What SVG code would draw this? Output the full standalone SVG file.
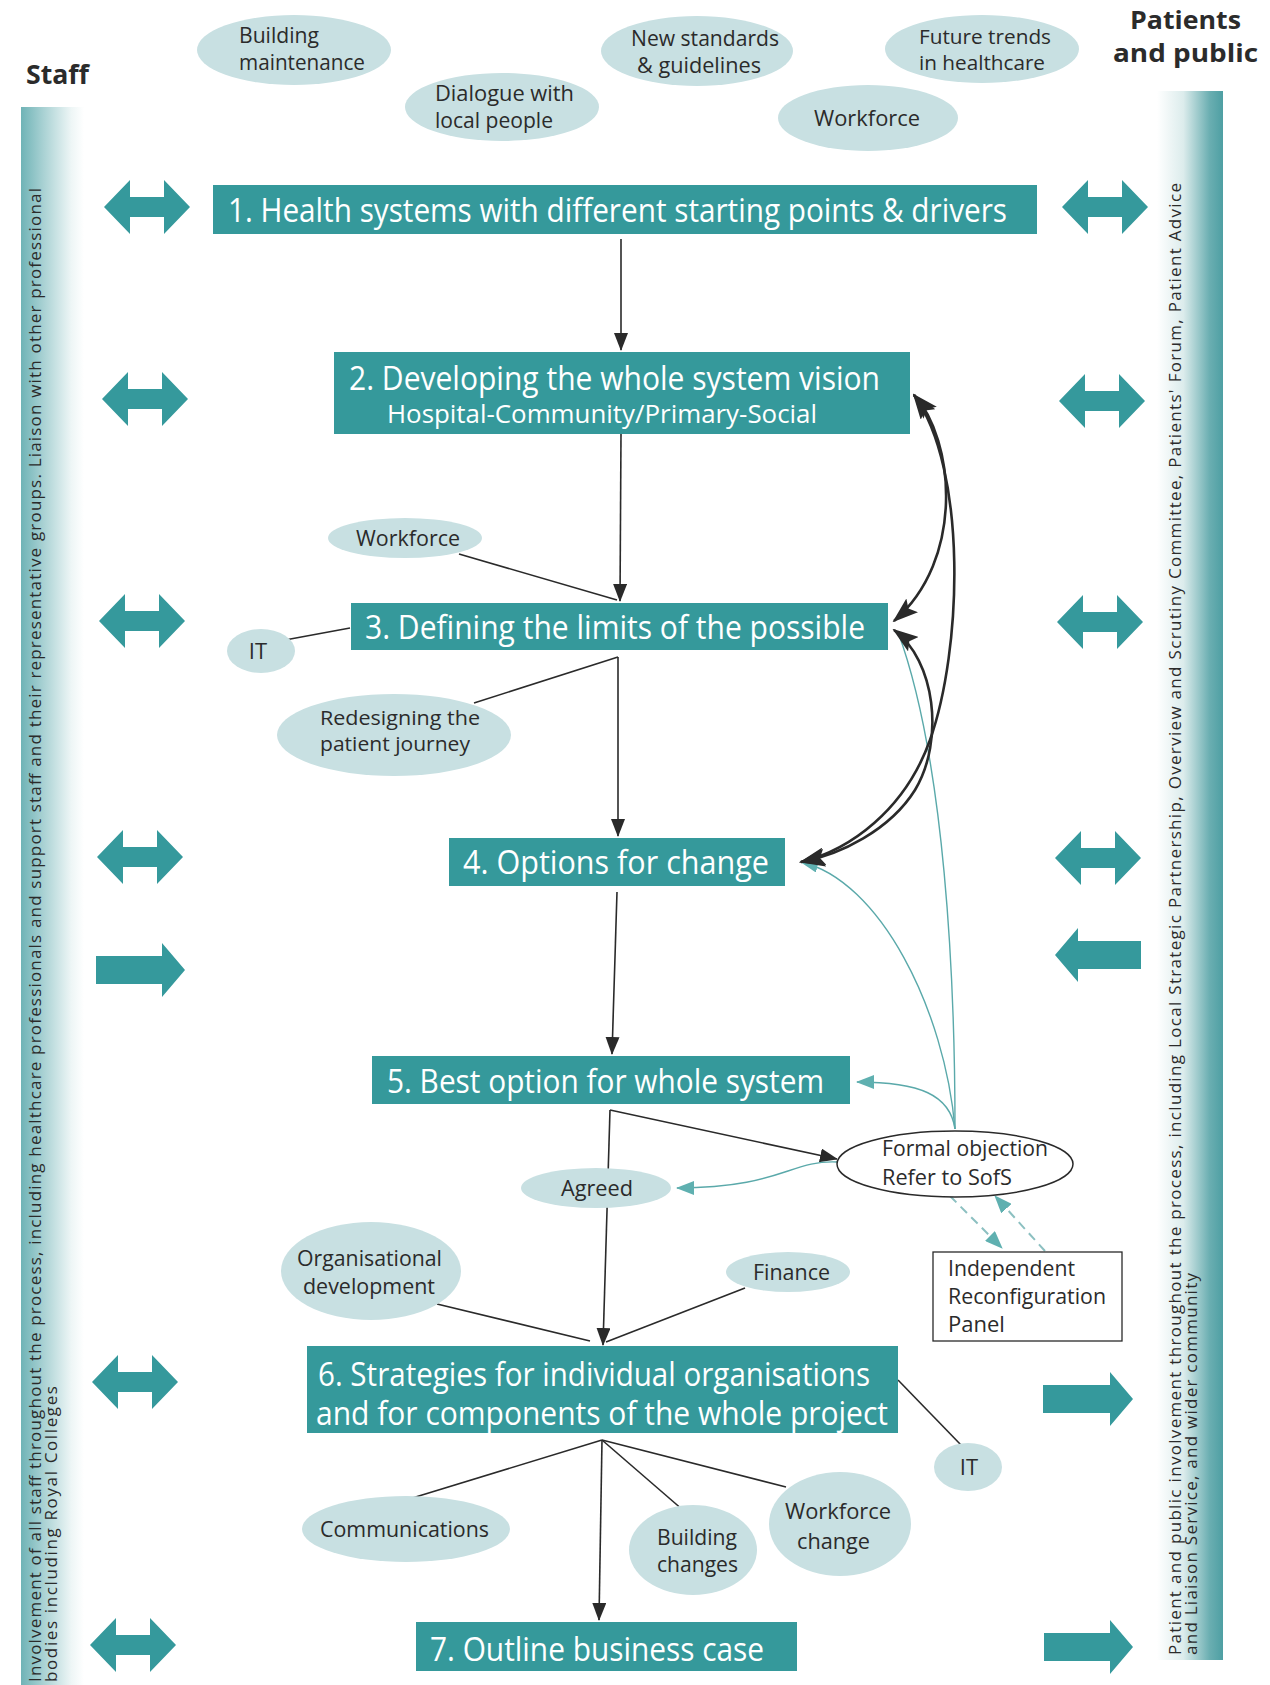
<svg xmlns="http://www.w3.org/2000/svg" width="1270" height="1685" viewBox="0 0 1270 1685">
<defs>
<style>
.box{fill:#35999b}
.bt{font-family:"Open Sans","Noto Sans",sans-serif;font-size:32px;fill:#ffffff}
.bt2{font-family:"Open Sans","Noto Sans",sans-serif;font-size:25px;fill:#ffffff}
.el{fill:#c8e0e2}
.et{font-family:"Open Sans","Noto Sans",sans-serif;font-size:22px;fill:#2b2b2b}
.et2{font-family:"Open Sans","Noto Sans",sans-serif;font-size:20.5px;fill:#2b2b2b}
.bar{font-family:"Open Sans","Noto Sans",sans-serif;font-size:17px;fill:#2b2b2b}
.hd{font-family:"Open Sans","Noto Sans",sans-serif;font-size:27px;font-weight:bold;fill:#2b2b2b}
.hd2{font-family:"Open Sans","Noto Sans",sans-serif;font-size:25px;font-weight:bold;fill:#2b2b2b}
.blk{fill:#35999c}
.ln{stroke:#2a2a2a;stroke-width:1.6;fill:none}
.cv{stroke:#2a2a2a;stroke-width:2.6;fill:none}
.tl{stroke:#5aa9aa;stroke-width:1.4;fill:none}
.ds{stroke:#8cc0c1;stroke-width:2;stroke-dasharray:9 6;fill:none}
</style>
<linearGradient id="gl" x1="0" y1="0" x2="1" y2="0">
<stop offset="0" stop-color="#6fb3b6"/>
<stop offset="0.35" stop-color="#a8d1d3"/>
<stop offset="0.8" stop-color="#eef6f6"/>
<stop offset="1" stop-color="#ffffff"/>
</linearGradient>
<linearGradient id="gr" x1="0" y1="0" x2="1" y2="0">
<stop offset="0" stop-color="#ffffff"/>
<stop offset="0.4" stop-color="#dcecec"/>
<stop offset="0.8" stop-color="#6aaeb1"/>
<stop offset="1" stop-color="#4e9fa3"/>
</linearGradient>
<marker id="ah" markerUnits="userSpaceOnUse" markerWidth="18" markerHeight="14" refX="17" refY="7" orient="auto">
<path d="M0,0 L18,7 L0,14 z" fill="#2a2a2a"/>
</marker>
<marker id="ahc" markerUnits="userSpaceOnUse" markerWidth="26" markerHeight="18" refX="24" refY="9" orient="auto-start-reverse">
<path d="M0,0 L26,9 L0,18 L5,9 z" fill="#2a2a2a"/>
</marker>
<marker id="aht" markerUnits="userSpaceOnUse" markerWidth="18" markerHeight="14" refX="17" refY="7" orient="auto">
<path d="M0,0 L18,7 L0,14 z" fill="#5fb0b0"/>
</marker>
</defs>
<rect width="1270" height="1685" fill="#ffffff"/>

<g id="staff-bar">
<rect x="21" y="107" width="63" height="1578" fill="url(#gl)"/>
<text class="bar" transform="translate(41,1682) rotate(-90)" textLength="1494" lengthAdjust="spacing">Involvement of all staff throughout the process, including healthcare professionals and support staff and their representative groups.  Liaison with other professional</text>
<text class="bar" transform="translate(57,1682) rotate(-90)" textLength="296" lengthAdjust="spacing">bodies including Royal Colleges</text>
</g>
<g id="public-bar">
<rect x="1157" y="91" width="66" height="1569" fill="url(#gr)"/>
<text class="bar" transform="translate(1181,1655) rotate(-90)" textLength="1472" lengthAdjust="spacing">Patient and public involvement throughout the process, including Local Strategic Partnership, Overview and Scrutiny Committee, Patients' Forum, Patient Advice</text>
<text class="bar" transform="translate(1197,1655) rotate(-90)" textLength="382" lengthAdjust="spacing">and Liaison Service, and wider community</text>
</g>

<g id="headings">
<text class="hd" x="26" y="84" textLength="63" lengthAdjust="spacingAndGlyphs">Staff</text>
<text class="hd2" x="1130" y="29" textLength="111" lengthAdjust="spacingAndGlyphs">Patients</text>
<text class="hd2" x="1113" y="62" textLength="145" lengthAdjust="spacingAndGlyphs">and public</text>
</g>

<g id="block-arrows">
<path class="blk" d="M104,207 L130,180 L130,197 L164,197 L164,180 L190,207 L164,234 L164,217 L130,217 L130,234 z"/>
<path class="blk" d="M102,399 L128,372 L128,389 L162,389 L162,372 L188,399 L162,426 L162,409 L128,409 L128,426 z"/>
<path class="blk" d="M99,621 L125,594 L125,611 L159,611 L159,594 L185,621 L159,648 L159,631 L125,631 L125,648 z"/>
<path class="blk" d="M97,857 L123,830 L123,847 L157,847 L157,830 L183,857 L157,884 L157,867 L123,867 L123,884 z"/>
<path class="blk" d="M96,956 L162,956 L162,943 L185,970 L162,997 L162,984 L96,984 z"/>
<path class="blk" d="M92,1382 L118,1355 L118,1372 L152,1372 L152,1355 L178,1382 L152,1409 L152,1392 L118,1392 L118,1409 z"/>
<path class="blk" d="M90,1645 L116,1618 L116,1635 L150,1635 L150,1618 L176,1645 L150,1672 L150,1655 L116,1655 L116,1672 z"/>
<path class="blk" d="M1062,207 L1088,180 L1088,197 L1122,197 L1122,180 L1148,207 L1122,234 L1122,217 L1088,217 L1088,234 z"/>
<path class="blk" d="M1059,401 L1085,374 L1085,391 L1119,391 L1119,374 L1145,401 L1119,428 L1119,411 L1085,411 L1085,428 z"/>
<path class="blk" d="M1057,622 L1083,595 L1083,612 L1117,612 L1117,595 L1143,622 L1117,649 L1117,632 L1083,632 L1083,649 z"/>
<path class="blk" d="M1055,858 L1081,831 L1081,848 L1115,848 L1115,831 L1141,858 L1115,885 L1115,868 L1081,868 L1081,885 z"/>
<path class="blk" d="M1055,955 L1078,928 L1078,941 L1141,941 L1141,969 L1078,969 L1078,982 z"/>
<path class="blk" d="M1043,1385 L1110,1385 L1110,1372 L1133,1399 L1110,1426 L1110,1413 L1043,1413 z"/>
<path class="blk" d="M1044,1633 L1110,1633 L1110,1620 L1133,1647 L1110,1674 L1110,1661 L1044,1661 z"/>
</g>

<g id="connectors">
<path class="ln" d="M621,239 L621,350" marker-end="url(#ah)"/>
<path class="ln" d="M621,434 L620,601" marker-end="url(#ah)"/>
<path class="ln" d="M459,554 L617,600"/>
<path class="ln" d="M285,640 L350,628"/>
<path class="ln" d="M474,703 L618,657"/>
<path class="ln" d="M618,657 L618,836" marker-end="url(#ah)"/>
<path class="ln" d="M617,892 L612,1054" marker-end="url(#ah)"/>
<path class="ln" d="M610,1110 L603,1345" marker-end="url(#ah)"/>
<path class="ln" d="M610,1110 L837,1159" marker-end="url(#ah)"/>
<path class="ln" d="M437,1304 L590,1341"/>
<path class="ln" d="M745,1288 L606,1342"/>
<path class="ln" d="M898,1380 L962,1446"/>
<path class="ln" d="M602,1440 L409,1499"/>
<path class="ln" d="M602,1440 L691,1517"/>
<path class="ln" d="M602,1440 L786,1487"/>
<path class="ln" d="M602,1440 L599,1620" marker-end="url(#ah)"/>
<path class="tl" d="M955,1129 C955,980 945,760 898,632"/>
<path class="tl" d="M955,1129 C945,1010 880,880 801,862" marker-end="url(#aht)"/>
<path class="tl" d="M955,1129 C950,1095 920,1082 857,1082" marker-end="url(#aht)"/>
<path class="tl" d="M837,1162 C790,1160 780,1188 677,1188" marker-end="url(#aht)"/>
<path class="ds" d="M950,1196 L1002,1248" marker-end="url(#aht)"/>
<path class="ds" d="M1045,1251 L995,1196" marker-end="url(#aht)"/>
<path class="cv" d="M914,395 C955,440 965,560 894,621" marker-start="url(#ahc)" marker-end="url(#ahc)"/>
<path class="cv" d="M914,395 C968,470 962,650 930,740 C905,810 850,850 801,862" marker-start="url(#ahc)" marker-end="url(#ahc)"/>
<path class="cv" d="M894,630 C935,660 945,740 915,790 C890,830 840,855 801,862" marker-start="url(#ahc)" marker-end="url(#ahc)"/>
</g>

<g id="box1"><rect class="box" x="213" y="185" width="824" height="49"/><text class="bt" x="228" y="222" textLength="779" lengthAdjust="spacingAndGlyphs">1. Health systems with different starting points &amp; drivers</text></g>
<g id="box2"><rect class="box" x="334" y="352" width="576" height="82"/><text class="bt" x="349" y="390" textLength="531" lengthAdjust="spacingAndGlyphs">2. Developing the whole system vision</text><text class="bt2" x="387" y="423" textLength="430" lengthAdjust="spacingAndGlyphs">Hospital-Community/Primary-Social</text></g>
<g id="box3"><rect class="box" x="351" y="603" width="537" height="47"/><text class="bt" x="365" y="639" textLength="500" lengthAdjust="spacingAndGlyphs">3. Defining the limits of the possible</text></g>
<g id="box4"><rect class="box" x="449" y="838" width="336" height="48"/><text class="bt" x="463" y="874" textLength="306" lengthAdjust="spacingAndGlyphs">4. Options for change</text></g>
<g id="box5"><rect class="box" x="372" y="1056" width="478" height="48"/><text class="bt" x="387" y="1093" textLength="437" lengthAdjust="spacingAndGlyphs">5. Best option for whole system</text></g>
<g id="box6"><rect class="box" x="307" y="1346" width="591" height="87"/><text class="bt" x="318" y="1386" textLength="552" lengthAdjust="spacingAndGlyphs">6. Strategies for individual organisations</text><text class="bt" x="316" y="1425" textLength="572" lengthAdjust="spacingAndGlyphs">and for components of the whole project</text></g>
<g id="box7"><rect class="box" x="416" y="1622" width="381" height="49"/><text class="bt" x="430" y="1661" textLength="334" lengthAdjust="spacingAndGlyphs">7. Outline business case</text></g>

<g id="e-building-maintenance"><ellipse class="el" cx="294" cy="50" rx="97" ry="35"/><text class="et" x="239" y="43" textLength="80" lengthAdjust="spacingAndGlyphs">Building</text><text class="et" x="239" y="70" textLength="126" lengthAdjust="spacingAndGlyphs">maintenance</text></g>
<g id="e-dialogue"><ellipse class="el" cx="502" cy="107" rx="97" ry="34"/><text class="et" x="435" y="101" textLength="139" lengthAdjust="spacingAndGlyphs">Dialogue with</text><text class="et" x="435" y="128" textLength="118" lengthAdjust="spacingAndGlyphs">local people</text></g>
<g id="e-standards"><ellipse class="el" cx="697" cy="51" rx="96" ry="35"/><text class="et" x="631" y="46" textLength="148" lengthAdjust="spacingAndGlyphs">New standards</text><text class="et" x="637" y="73" textLength="124" lengthAdjust="spacingAndGlyphs">&amp; guidelines</text></g>
<g id="e-future"><ellipse class="el" cx="982" cy="49" rx="97" ry="34"/><text class="et2" x="919" y="44" textLength="132" lengthAdjust="spacingAndGlyphs">Future trends</text><text class="et2" x="919" y="70" textLength="126" lengthAdjust="spacingAndGlyphs">in healthcare</text></g>
<g id="e-workforce-top"><ellipse class="el" cx="868" cy="118" rx="90" ry="33"/><text class="et" x="814" y="126" textLength="106" lengthAdjust="spacingAndGlyphs">Workforce</text></g>
<g id="e-workforce-mid"><ellipse class="el" cx="405" cy="538" rx="77" ry="20"/><text class="et" x="356" y="546" textLength="104" lengthAdjust="spacingAndGlyphs">Workforce</text></g>
<g id="e-it-1"><ellipse class="el" cx="261" cy="651" rx="34" ry="22"/><text class="et" x="258" y="659" text-anchor="middle">IT</text></g>
<g id="e-redesign"><ellipse class="el" cx="394" cy="735" rx="117" ry="41"/><text class="et2" x="320" y="725" textLength="160" lengthAdjust="spacingAndGlyphs">Redesigning the</text><text class="et2" x="320" y="751" textLength="150" lengthAdjust="spacingAndGlyphs">patient journey</text></g>
<g id="e-agreed"><ellipse class="el" cx="596" cy="1188" rx="75" ry="20"/><text class="et" x="561" y="1196" textLength="72" lengthAdjust="spacingAndGlyphs">Agreed</text></g>
<g id="e-formal"><ellipse cx="955" cy="1164" rx="118" ry="33" fill="#ffffff" stroke="#2a2a2a" stroke-width="1.5"/><text class="et" x="882" y="1156" textLength="166" lengthAdjust="spacingAndGlyphs">Formal objection</text><text class="et" x="882" y="1185" textLength="130" lengthAdjust="spacingAndGlyphs">Refer to SofS</text></g>
<g id="irp"><rect x="933" y="1252" width="189" height="89" fill="#ffffff" stroke="#2a2a2a" stroke-width="1.3"/><text class="et" x="948" y="1276" textLength="127" lengthAdjust="spacingAndGlyphs">Independent</text><text class="et" x="948" y="1304" textLength="158" lengthAdjust="spacingAndGlyphs">Reconfiguration</text><text class="et" x="948" y="1332">Panel</text></g>
<g id="e-orgdev"><ellipse class="el" cx="371" cy="1271" rx="90" ry="49"/><text class="et" x="297" y="1266" textLength="145" lengthAdjust="spacingAndGlyphs">Organisational</text><text class="et" x="303" y="1294" textLength="132" lengthAdjust="spacingAndGlyphs">development</text></g>
<g id="e-finance"><ellipse class="el" cx="788" cy="1272" rx="62" ry="20"/><text class="et" x="753" y="1280" textLength="77" lengthAdjust="spacingAndGlyphs">Finance</text></g>
<g id="e-it-2"><ellipse class="el" cx="968" cy="1467" rx="34" ry="24"/><text class="et" x="969" y="1475" text-anchor="middle">IT</text></g>
<g id="e-comms"><ellipse class="el" cx="406" cy="1529" rx="104" ry="33"/><text class="et" x="320" y="1537" textLength="169" lengthAdjust="spacingAndGlyphs">Communications</text></g>
<g id="e-building-changes"><ellipse class="el" cx="693" cy="1550" rx="64" ry="45"/><text class="et" x="657" y="1545" textLength="80" lengthAdjust="spacingAndGlyphs">Building</text><text class="et" x="657" y="1572" textLength="81" lengthAdjust="spacingAndGlyphs">changes</text></g>
<g id="e-workforce-change"><ellipse class="el" cx="840" cy="1524" rx="71" ry="52"/><text class="et" x="785" y="1519" textLength="106" lengthAdjust="spacingAndGlyphs">Workforce</text><text class="et" x="797" y="1549" textLength="73" lengthAdjust="spacingAndGlyphs">change</text></g>
</svg>
